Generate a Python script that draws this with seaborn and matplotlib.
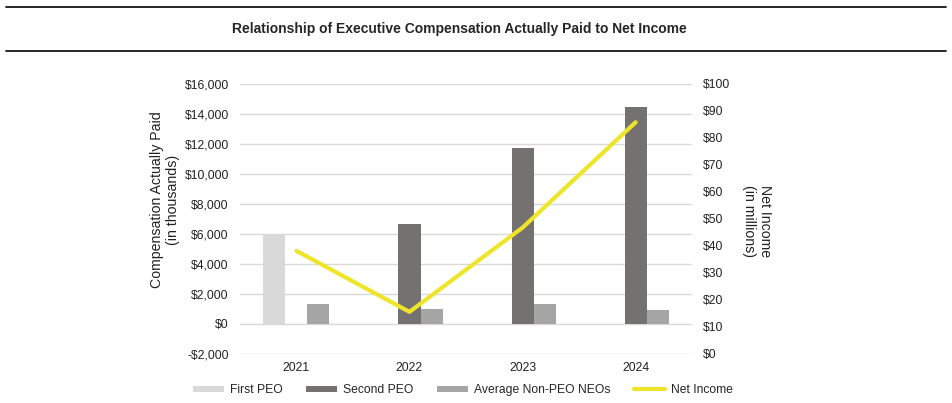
import matplotlib
matplotlib.use("Agg")
import matplotlib.pyplot as plt
import matplotlib.ticker as mticker
from matplotlib.patches import Patch
from matplotlib.lines import Line2D
import seaborn as sns
import numpy as np
import pandas as pd

sns.set_style("white")
plt.rcParams["font.family"] = ["Liberation Sans", "DejaVu Sans"]

years = ["2021", "2022", "2023", "2024"]
first_peo = [5900, -80, 0, 0]
second_peo = [0, 6650, 11700, 14450]
avg_neo = [1350, 1000, 1350, 950]
net_income = [38.2, 15.6, 46.8, 85.8]

series = ["First PEO", "Second PEO", "Average Non-PEO NEOs"]
colors = ["#d9d9d9", "#767171", "#a5a5a5"]
line_color = "#ede52a"
grid_color = "#d9d9d9"
text_color = "#222222"

df = pd.DataFrame({
    "year": years * 3,
    "series": [s for s in series for _ in years],
    "value": first_peo + second_peo + avg_neo,
})

fig = plt.figure(figsize=(9.52, 4.03), dpi=100)
ax = fig.add_axes([0.252, 0.1216, 0.475, 0.67])

sns.barplot(data=df, x="year", y="value", hue="series", hue_order=series,
            palette=colors, width=0.585, ax=ax, legend=False,
            saturation=1, edgecolor="none")

ax.set_ylim(-2000, 16000)
ax.set_yticks(range(-2000, 16001, 2000))
ax.yaxis.set_major_formatter(mticker.FuncFormatter(
    lambda v, _: f"-${abs(v):,.0f}" if v < 0 else f"${v:,.0f}"))
ax.grid(axis="y", color=grid_color, linewidth=1)
ax.set_axisbelow(True)
ax.set_xlim(-0.5, 3.5)
ax.set_xlabel("")
ax.set_ylabel("Compensation Actually Paid\n(in thousands)", fontsize=10.2,
              color=text_color)
ax.yaxis.set_label_coords(-0.133, 0.57)
ax.tick_params(axis="both", length=0, labelsize=8.7, colors=text_color)
ax.tick_params(axis="y", pad=8)
ax.tick_params(axis="x", pad=6)
for s in ax.spines.values():
    s.set_visible(False)

ax2 = ax.twinx()
sns.lineplot(x=np.arange(len(years)), y=net_income, ax=ax2, color=line_color,
             linewidth=3, solid_capstyle="round")
ax2.set_ylim(0, 100)
ax2.set_yticks(range(0, 101, 10))
ax2.yaxis.set_major_formatter(mticker.FuncFormatter(lambda v, _: f"${v:.0f}"))
ax2.set_xlim(-0.5, 3.5)
ax2.set_ylabel("Net Income\n(in millions)", fontsize=10.2, color=text_color,
               rotation=270, va="center")
ax2.yaxis.set_label_coords(1.143, 0.493)
ax2.tick_params(axis="y", length=0, labelsize=8.7, colors=text_color, pad=8)
for s in ax2.spines.values():
    s.set_visible(False)

handles = [Patch(facecolor=c, edgecolor="none") for c in colors]
handles.append(Line2D([0], [0], color=line_color, linewidth=3))
fig.legend(handles, series + ["Net Income"], loc="center",
           bbox_to_anchor=(0.486, 0.032), ncol=4, frameon=False,
           fontsize=8.7, handlelength=2.6, handleheight=0.45,
           columnspacing=1.95, handletextpad=0.45)

fig.text(0.483, 0.928, "Relationship of Executive Compensation Actually Paid to Net Income",
         ha="center", va="center", fontsize=10, fontweight="bold")
fig.add_artist(Line2D([0.006, 0.994], [0.983, 0.983], color="black", linewidth=1.2))
fig.add_artist(Line2D([0.006, 0.994], [0.873, 0.873], color="black", linewidth=1.2))

fig.savefig("out.png", dpi=100)
